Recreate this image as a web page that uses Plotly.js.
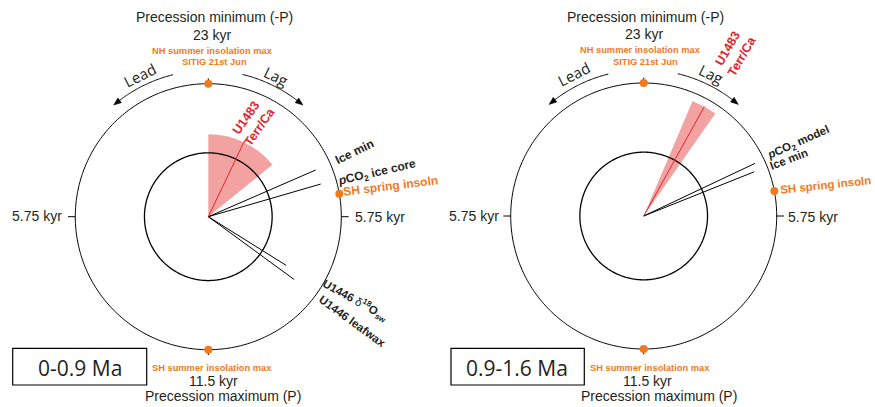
<!DOCTYPE html>
<html>
<head>
<meta charset="utf-8">
<script src="https://cdn.plot.ly/plotly-3.0.1.min.js"></script>
<style>html,body{margin:0;padding:0;background:#fff;}#chart{width:875px;height:407px;}</style>
</head>
<body>
<div id="chart"></div>
<script>
// ---------------- DATA ----------------
const panelNames = ['0-0.9 Ma', '0.9-1.6 Ma'];

// U1483 Terr/Ca phase (deg, clockwise from -P), error half-width (deg), radius (fraction of outer circle)
const terrPhase = [25.5, 29.0];
const terrErr   = [25.5, 6.0];
const terrLen   = [0.62, 0.94];

// Other phases, panel 1 (0-0.9 Ma)
const phaseLabels1 = ['Ice min', 'pCO2 ice core', 'U1446 d18Osw', 'U1446 leafwax'];
const phaseDeg1    = [66.5, 73.8, 122.0, 126.2];
const phaseLen1    = [0.88, 0.88, 0.69, 0.80];

// Other phases, panel 2 (0.9-1.6 Ma)
const phaseLabels2 = ['pCO2 model', 'Ice min'];
const phaseDeg2    = [64.7, 68.2];
const phaseLen2    = [0.925, 0.895];

// Insolation reference points (deg)
const nhSummerDeg = [0, 0];
const shSummerDeg = [180, 180];
const shSpringDeg = [80.1, 79.2];

// Cycle tick labels
const tickDeg = [0, 90, 180, 270];
const cycleLabels = ['23 kyr', '5.75 kyr', '11.5 kyr', '5.75 kyr'];

// ---------------- STYLE ----------------
const W = 875, H = 407;
const ORANGE = '#f27a1e', RED = '#e3232b', PINK = '#f2a3a1', INK = '#231f20';
const FONT = 'Liberation Sans, Arial, sans-serif';
const MYR = 'Open Sans, Lato, sans-serif';
const RMAX = 1.15, INNER = 0.48, ARC = 1.10;
const OUTER_PX = 133;
const centers = [[208.3, 216.7], [643.7, 216.0]];

function range(a, b, s) { const o = []; if (s > 0) for (let v = a; v <= b + 1e-9; v += s) o.push(v); else for (let v = a; v >= b - 1e-9; v += s) o.push(v); return o; }

const traces = [];
const annotations = [];
const shapes = [];
const layout = {width: W, height: H, margin: {l: 0, r: 0, t: 0, b: 0}, showlegend: false,
  paper_bgcolor: '#fff', font: {family: FONT, color: INK}};

function px2p(x, y) { return [x / W, 1 - y / H]; }
function ann(x, y, text, size, opt) {
  opt = opt || {};
  const p = px2p(x, y);
  annotations.push({x: p[0], y: p[1], xref: 'paper', yref: 'paper', text: text, showarrow: false,
    xanchor: 'center', yanchor: 'middle', textangle: opt.angle || 0,
    font: {family: opt.family || FONT, size: size, color: opt.color || INK, weight: opt.bold ? 'bold' : 'normal'}});
}

const panels = [
  {phaseDeg: phaseDeg1, phaseLen: phaseLen1},
  {phaseDeg: phaseDeg2, phaseLen: phaseLen2}
];

panels.forEach((pn, i) => {
  const sp = i === 0 ? 'polar' : 'polar2';
  const c = centers[i];
  const Rpx = OUTER_PX * RMAX;
  layout[sp] = {
    domain: {x: [(c[0] - Rpx) / W, (c[0] + Rpx) / W], y: [(H - c[1] - Rpx) / H, (H - c[1] + Rpx) / H]},
    bgcolor: 'rgba(0,0,0,0)',
    angularaxis: {rotation: 90, direction: 'clockwise', showline: false, showgrid: false, ticks: '', showticklabels: false},
    radialaxis: {range: [0, RMAX], showline: false, showgrid: false, ticks: '', showticklabels: false}
  };
  // error wedge
  traces.push({type: 'barpolar', subplot: sp, r: [terrLen[i]], theta: [terrPhase[i]], width: [2 * terrErr[i]],
    base: 0, marker: {color: PINK, line: {width: 0}}, hoverinfo: 'skip'});
  // circles
  const full = range(0, 360, 1);
  traces.push({type: 'scatterpolar', subplot: sp, mode: 'lines', r: full.map(() => 1), theta: full,
    line: {color: '#000', width: 1}, hoverinfo: 'skip'});
  traces.push({type: 'scatterpolar', subplot: sp, mode: 'lines', r: full.map(() => INNER), theta: full,
    line: {color: '#000', width: 1.3}, hoverinfo: 'skip'});
  // tick marks on the outer circle
  const tr = [], tt = [];
  tickDeg.forEach(d => { tr.push(1, (d % 180 === 0) ? 1.04 : 1.055, null); tt.push(d, d, null); });
  traces.push({type: 'scatterpolar', subplot: sp, mode: 'lines', r: tr, theta: tt,
    line: {color: '#000', width: 1}, hoverinfo: 'skip'});
  // phase lines
  pn.phaseDeg.forEach((d, k) => {
    traces.push({type: 'scatterpolar', subplot: sp, mode: 'lines', r: [0, pn.phaseLen[k]], theta: [d, d],
      line: {color: '#000', width: 1}, hoverinfo: 'skip'});
  });
  // Terr/Ca line
  traces.push({type: 'scatterpolar', subplot: sp, mode: 'lines', r: [0, terrLen[i]], theta: [terrPhase[i], terrPhase[i]],
    line: {color: RED, width: 1}, hoverinfo: 'skip'});
  // insolation markers
  traces.push({type: 'scatterpolar', subplot: sp, mode: 'markers', r: [1, 1, 1],
    theta: [nhSummerDeg[i], shSummerDeg[i], shSpringDeg[i]],
    marker: {color: ORANGE, size: 8, line: {width: 0}}, cliponaxis: false, hoverinfo: 'skip'});
  // Lead / Lag arcs with arrowheads
  [[346, 321.5, -1], [13.5, 38.5, 1]].forEach(a => {
    const th = range(a[0], a[1], a[2] * 0.5);
    traces.push({type: 'scatterpolar', subplot: sp, mode: 'lines', r: th.map(() => ARC), theta: th,
      line: {color: '#000', width: 1}, hoverinfo: 'skip'});
    const e = a[1], s = a[2];
    traces.push({type: 'scatterpolar', subplot: sp, mode: 'lines', fill: 'toself', fillcolor: '#000',
      r: [ARC - 0.022, ARC, ARC + 0.022, ARC - 0.022], theta: [e - s * 1.2, e + s * 1.8, e - s * 1.2, e - s * 1.2],
      line: {color: '#000', width: 0.5}, hoverinfo: 'skip'});
  });
});

// ---------------- TEXT ----------------
[0, 1].forEach(i => {
  const P = i === 0
    ? {pmin: [214, 17], k23: [212, 35], nh: [212, 51], sitig: [214, 62.5], lead: [140, 75], lag: [276, 76],
       k575L: [37, 216], k575R: [379.5, 217], shs: [212, 367.5], k115: [213, 381], pmax: [223, 396],
       box: [12.7, 348.3, 146.7, 385], boxT: [80, 367.5], terr: [253, 122, -55], spring: [390, 186, -7, 12]}
    : {pmin: [645, 17], k23: [643.7, 34.5], nh: [640.3, 50], sitig: [645, 62], lead: [573.7, 74], lag: [711.3, 74],
       k575L: [474, 216], k575R: [813, 217], shs: [650.3, 367.5], k115: [647.7, 381], pmax: [658.5, 396],
       box: [451, 348.3, 584.3, 385], boxT: [517, 367.5], terr: [735, 52, -60], spring: [825, 185, -6, 11.5]};
  ann(P.pmin[0], P.pmin[1], 'Precession minimum (-P)', 14);
  ann(P.k23[0], P.k23[1], cycleLabels[0], 14);
  ann(P.nh[0], P.nh[1], 'NH summer insolation max', 9.3, {color: ORANGE, bold: true});
  ann(P.sitig[0], P.sitig[1], 'SITIG 21st Jun', 9.3, {color: ORANGE, bold: true});
  ann(P.lead[0], P.lead[1], 'Lead', 15, {family: MYR, angle: -27});
  ann(P.lag[0], P.lag[1], 'Lag', 15, {family: MYR, angle: 26});
  ann(P.k575L[0], P.k575L[1], cycleLabels[3], 14);
  ann(P.k575R[0], P.k575R[1], cycleLabels[1], 14);
  ann(P.shs[0], P.shs[1], 'SH summer insolation max', 9.3, {color: ORANGE, bold: true});
  ann(P.k115[0], P.k115[1], cycleLabels[2], 14);
  ann(P.pmax[0], P.pmax[1], 'Precession maximum (P)', 14);
  ann(P.terr[0], P.terr[1], 'U1483<br>Terr/Ca', 12.5, {color: RED, bold: true, angle: P.terr[2]});
  ann(P.spring[0], P.spring[1], 'SH spring insoln', P.spring[3], {color: ORANGE, bold: true, angle: P.spring[2]});
  ann(P.boxT[0], P.boxT[1], panelNames[i], 21, {family: MYR});
  const b0 = px2p(P.box[0], P.box[1]), b1 = px2p(P.box[2], P.box[3]);
  shapes.push({type: 'rect', xref: 'paper', yref: 'paper', x0: b0[0], y0: b0[1], x1: b1[0], y1: b1[1],
    line: {color: '#000', width: 1.2}, fillcolor: 'rgba(0,0,0,0)'});
});
// panel 1 phase labels
ann(354, 152, phaseLabels1[0], 12, {bold: true, angle: -26});
ann(377, 173, '<i>p</i>CO<sub>2</sub> ice core', 12, {bold: true, angle: -13});
ann(355, 300, 'U1446 <span style="font-weight:normal">δ</span><sup>18</sup>O<sub>sw</sub>', 11.5, {bold: true, angle: 29});
ann(352, 321, phaseLabels1[3], 11.5, {bold: true, angle: 36});
// panel 2 phase labels
ann(798, 143, '<i>p</i>CO<sub>2</sub> model', 11.5, {bold: true, angle: -24});
ann(789, 159, phaseLabels2[1], 11.5, {bold: true, angle: -21});

layout.annotations = annotations;
layout.shapes = shapes;
Plotly.newPlot('chart', traces, layout, {displayModeBar: false, staticPlot: true});
</script>
</body>
</html>
